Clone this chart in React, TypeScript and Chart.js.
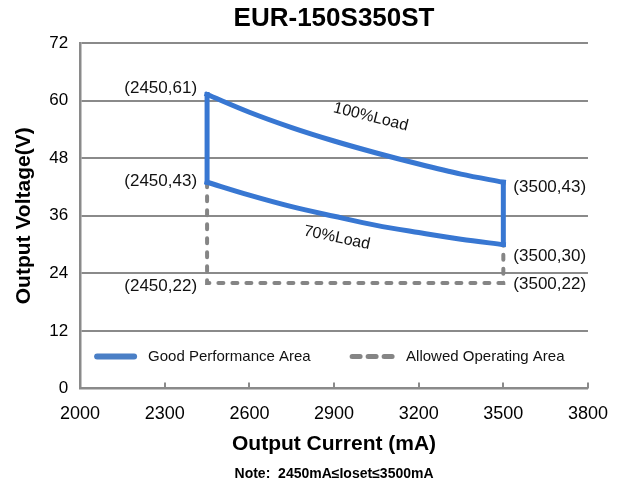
import React, { useEffect, useRef } from 'react';
import { Chart, registerables } from 'chart.js';

Chart.register(...registerables);

// ---------- data ----------
const CHART_TITLE = 'EUR-150S350ST';
const X_TITLE = 'Output Current (mA)';
const Y_TITLE = 'Output Voltage(V)';
const NOTE = 'Note:  2450mA≤Ioset≤3500mA';

const X_TICKS = [2000, 2300, 2600, 2900, 3200, 3500, 3800];
const Y_TICKS = [0, 12, 24, 36, 48, 60, 72];

// curves
const CURRENT_MA = [2450, 2600, 2750, 2900, 3050, 3200, 3350, 3500];
const VOLT_100 = [61.3, 57.6, 54.4, 51.6, 49.1, 46.8, 44.7, 43.0];
const VOLT_70 = [43.0, 40.3, 37.9, 35.9, 34.0, 32.5, 31.1, 30.0];

// allowed operating area (dashed)
const ALLOWED_I = [2450, 2450, 3500, 3500];
const ALLOWED_V = [43, 22, 22, 30];

// corner annotations
const CORNER_I = [2450, 2450, 2450, 3500, 3500, 3500];
const CORNER_V = [61, 43, 22, 43, 30, 22];

// curve name labels (placed in data units)
const CURVE_NAMES = ['100%Load', '70%Load'];
const CURVE_LABEL_I = [3030, 2910];
const CURVE_LABEL_V = [56.6, 31.4];

const SERIES_NAMES = ['Good Performance Area', 'Allowed Operating Area'];

// ---------- styles ----------
const FONT = "'Liberation Sans', Arial, Helvetica, sans-serif";
const BLUE = '#3877d2';
const LEGEND_BLUE = '#4a7fc6';
const GRAY = '#858585';
const GRID = '#8a8a8a';
const CORNER_DY = [-8, -1, 3.5, 5, 12, 1.5];
const CURVE_ANGLE = [14, 12];

const overlayPlugin = {
  id: 'overlay',
  afterDatasetsDraw(chart: any) {
    const { ctx, chartArea, scales } = chart;
    const xs = scales.x;
    const ys = scales.y;
    ctx.save();
    // inward tick marks on the x axis
    ctx.strokeStyle = GRID;
    ctx.lineWidth = 2;
    X_TICKS.forEach((v) => {
      const px = Math.round(xs.getPixelForValue(v));
      ctx.beginPath();
      ctx.moveTo(px, chartArea.bottom);
      ctx.lineTo(px, chartArea.bottom - 6);
      ctx.stroke();
    });
    // corner labels
    ctx.font = `17px ${FONT}`;
    ctx.fillStyle = '#111';
    ctx.textBaseline = 'middle';
    CORNER_I.forEach((xi, i) => {
      const px = xs.getPixelForValue(xi);
      const py = ys.getPixelForValue(CORNER_V[i]);
      const left = xi < 3000;
      ctx.textAlign = left ? 'right' : 'left';
      ctx.fillText(`(${xi},${CORNER_V[i]})`, left ? px - 10 : px + 10, py + CORNER_DY[i]);
    });
    // curve labels
    ctx.font = `16px ${FONT}`;
    ctx.textAlign = 'center';
    CURVE_NAMES.forEach((name, i) => {
      const px = xs.getPixelForValue(CURVE_LABEL_I[i]);
      const py = ys.getPixelForValue(CURVE_LABEL_V[i]);
      ctx.save();
      ctx.translate(px, py);
      ctx.rotate((CURVE_ANGLE[i] * Math.PI) / 180);
      ctx.fillText(name, 0, 0);
      ctx.restore();
    });
    // legend inside the plot
    const ly = chartArea.bottom - 32;
    const l = chartArea.left;
    ctx.lineCap = 'round';
    ctx.strokeStyle = LEGEND_BLUE;
    ctx.lineWidth = 6;
    ctx.setLineDash([]);
    ctx.beginPath();
    ctx.moveTo(l + 17, ly);
    ctx.lineTo(l + 54, ly);
    ctx.stroke();
    ctx.strokeStyle = GRAY;
    ctx.lineWidth = 5;
    ctx.setLineDash([8, 8]);
    ctx.beginPath();
    ctx.moveTo(l + 272, ly);
    ctx.lineTo(l + 312, ly);
    ctx.stroke();
    ctx.setLineDash([]);
    ctx.font = `15px ${FONT}`;
    ctx.textAlign = 'left';
    ctx.fillStyle = '#111';
    ctx.fillText(SERIES_NAMES[0], l + 68, ly);
    ctx.fillText(SERIES_NAMES[1], l + 326, ly);
    ctx.restore();
  },
};

export default function App() {
  const ref = useRef<HTMLCanvasElement | null>(null);

  useEffect(() => {
    if (!ref.current) return;
    Chart.defaults.font.family = FONT;
    const n = CURRENT_MA.length - 1;
    const upper = CURRENT_MA.map((x, i) => ({ x, y: VOLT_100[i] }));
    const lower = CURRENT_MA.map((x, i) => ({ x, y: VOLT_70[i] }));
    const leftEdge = [
      { x: CURRENT_MA[0], y: VOLT_70[0] },
      { x: CURRENT_MA[0], y: VOLT_100[0] },
    ];
    const rightEdge = [
      { x: CURRENT_MA[n], y: VOLT_100[n] },
      { x: CURRENT_MA[n], y: VOLT_70[n] },
    ];
    const allowedPath = ALLOWED_I.map((x, i) => ({ x, y: ALLOWED_V[i] }));

    const good = {
      showLine: true,
      borderColor: BLUE,
      borderWidth: 5,
      borderJoinStyle: 'miter',
      borderCapStyle: 'square',
      pointRadius: 0,
    };

    const chart = new Chart(ref.current, {
      type: 'scatter',
      data: {
        datasets: [
          { ...good, label: SERIES_NAMES[0], data: upper, cubicInterpolationMode: 'monotone' },
          { ...good, label: SERIES_NAMES[0], data: lower, cubicInterpolationMode: 'monotone' },
          { ...good, label: SERIES_NAMES[0], data: leftEdge, tension: 0 },
          { ...good, label: SERIES_NAMES[0], data: rightEdge, tension: 0 },
          {
            label: SERIES_NAMES[1],
            data: allowedPath,
            showLine: true,
            borderColor: GRAY,
            borderWidth: 4,
            borderDash: [5, 9],
            borderCapStyle: 'round',
            pointRadius: 0,
            tension: 0,
          },
        ],
      },
      options: {
        animation: false,
        responsive: true,
        maintainAspectRatio: false,
        layout: { padding: { left: 0, right: 0, top: 0, bottom: 0 } },
        plugins: {
          legend: { display: false },
          tooltip: { enabled: false },
          title: {
            display: true,
            text: CHART_TITLE,
            fullSize: false,
            color: '#000',
            font: { size: 26, weight: 'bold' },
            padding: { top: 3, bottom: 9 },
          },
          subtitle: {
            display: true,
            position: 'bottom',
            text: NOTE,
            fullSize: false,
            color: '#000',
            font: { size: 14, weight: 'bold' },
            padding: { top: 6, bottom: 2 },
          },
        },
        scales: {
          x: {
            type: 'linear',
            min: 2000,
            max: 3800,
            afterBuildTicks: (s: any) => {
              s.ticks = X_TICKS.map((v) => ({ value: v }));
            },
            ticks: { color: '#000', font: { size: 18 }, padding: 10, callback: (v: any) => String(v) },
            grid: {
              display: true,
              drawOnChartArea: false,
              drawTicks: true,
              tickLength: 5,
              tickColor: 'rgba(0,0,0,0)',
            },
            border: { display: true, color: GRID, width: 2.5 },
            title: {
              display: true,
              text: X_TITLE,
              color: '#000',
              font: { size: 21, weight: 'bold' },
              padding: { top: -3, bottom: 3 },
            },
          },
          y: {
            type: 'linear',
            min: 0,
            max: 72,
            afterBuildTicks: (s: any) => {
              s.ticks = Y_TICKS.map((v) => ({ value: v }));
            },
            ticks: { color: '#000', font: { size: 17 }, padding: 12, callback: (v: any) => String(v) },
            grid: { color: GRID, lineWidth: 2, drawTicks: false },
            border: { display: true, color: GRID, width: 2.5 },
            title: {
              display: true,
              text: Y_TITLE,
              color: '#000',
              font: { size: 21, weight: 'bold' },
              padding: { top: 12, bottom: 0 },
            },
          },
        },
      } as any,
      plugins: [overlayPlugin],
    });
    return () => chart.destroy();
  }, []);

  return (
    <div style={{ position: 'fixed', left: 0, top: 0, width: 618, height: 485, background: '#fff' }}>
      <canvas ref={ref} />
    </div>
  );
}
